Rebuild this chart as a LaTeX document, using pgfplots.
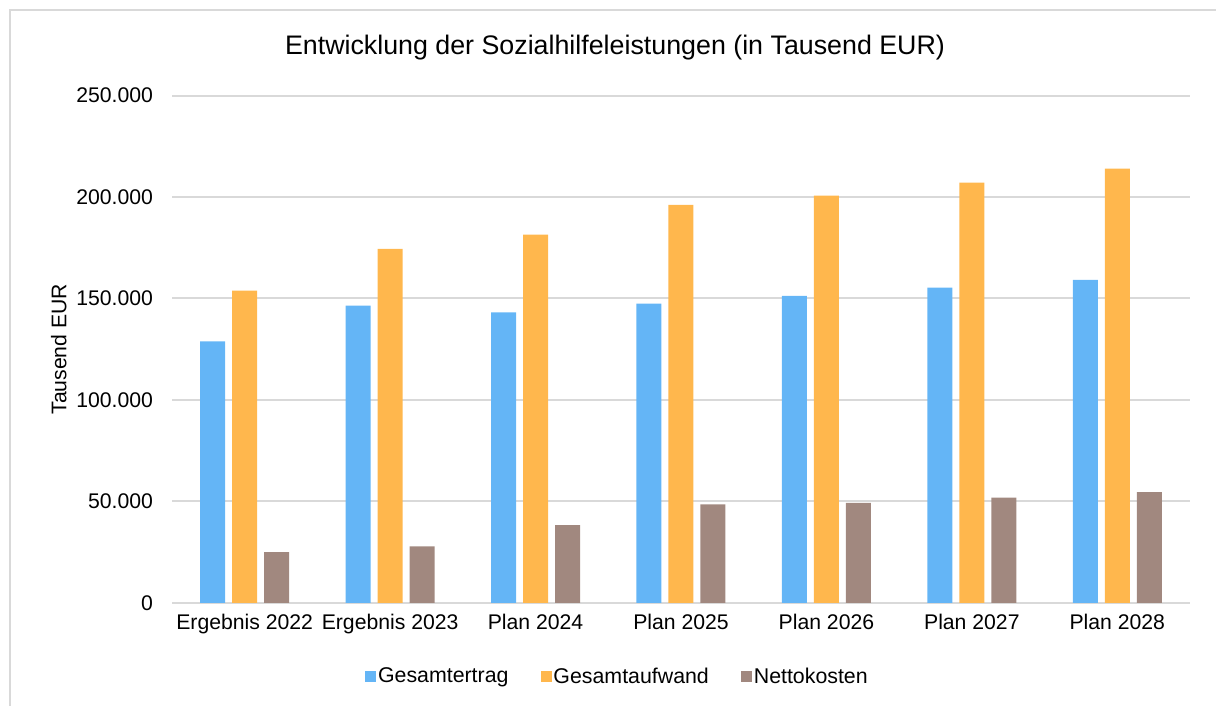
\documentclass[border=0pt]{standalone}
\usepackage{pgfplots}
\pgfplotsset{compat=1.18}
\usepackage{fontspec}
\setmainfont{Liberation Sans}
\definecolor{cBlue}{HTML}{64B5F6}
\definecolor{cOrange}{HTML}{FFB74D}
\definecolor{cBrown}{HTML}{A1887F}
\definecolor{cGrid}{HTML}{D9D9D9}
\newcommand\lbl{\fontsize{10.6bp}{12bp}\selectfont}
\begin{document}
\begin{tikzpicture}
\useasboundingbox (0,0) rectangle (608bp,353bp);
\draw[cGrid, line width=1.2bp] (5bp,0) -- (5bp,348bp) -- (610bp,348bp);
\node[font=\fontsize{13.4bp}{15bp}\selectfont] at (307.5bp,329bp) {Entwicklung der Sozialhilfeleistungen (in Tausend EUR)};
\begin{axis}[
  at={(86bp,51.6bp)}, anchor=south west,
  scale only axis, width=509bp, height=253.6bp,
  xmin=-0.5, xmax=6.5, ymin=0, ymax=250000,
  ybar=0pt, bar width=12.5bp,
  xtick={0,...,6},
  xticklabels={Ergebnis 2022,Ergebnis 2023,Plan 2024,Plan 2025,Plan 2026,Plan 2027,Plan 2028},
  ytick={0,50000,100000,150000,200000,250000},
  scaled y ticks=false,
  /pgf/number format/fixed,
  /pgf/number format/1000 sep={.},
  /pgf/number format/assume math mode=true,
  ticklabel style={font=\lbl},
  major tick length=0pt,
  ymajorgrids, grid style={cGrid, line width=1bp},
  axis x line*=bottom, axis y line*=left,
  x axis line style={cGrid, line width=1.2bp, -},
  y axis line style={draw=none},
  yticklabel style={xshift=-6bp},
  xticklabel style={yshift=-2bp},
  ylabel={Tausend EUR}, ylabel style={font=\lbl, yshift=-2bp},
  legend columns=3,
  legend style={at={(0.4385,-0.146)}, anchor=center, draw=none, font=\fontsize{10.67bp}{12bp}\selectfont,
    /tikz/every even column/.append style={column sep=14bp},
    /tikz/every odd column/.append style={column sep=-1bp}},
  legend image code/.code={\fill[#1] (0bp,-2.75bp) rectangle (5.5bp,2.75bp);},
]
\addplot[draw=none, fill=cBlue, bar shift=-16bp] coordinates {(0,128800) (1,146500) (2,143100) (3,147500) (4,151300) (5,155300) (6,159200)};
\addplot[draw=none, fill=cOrange, bar shift=0bp] coordinates {(0,153900) (1,174400) (2,181500) (3,196100) (4,200700) (5,207100) (6,214000)};
\addplot[draw=none, fill=cBrown, bar shift=16bp] coordinates {(0,25000) (1,27800) (2,38300) (3,48500) (4,49300) (5,51900) (6,54500)};
\legend{Gesamtertrag,Gesamtaufwand,Nettokosten}
\end{axis}
\end{tikzpicture}
\end{document}
